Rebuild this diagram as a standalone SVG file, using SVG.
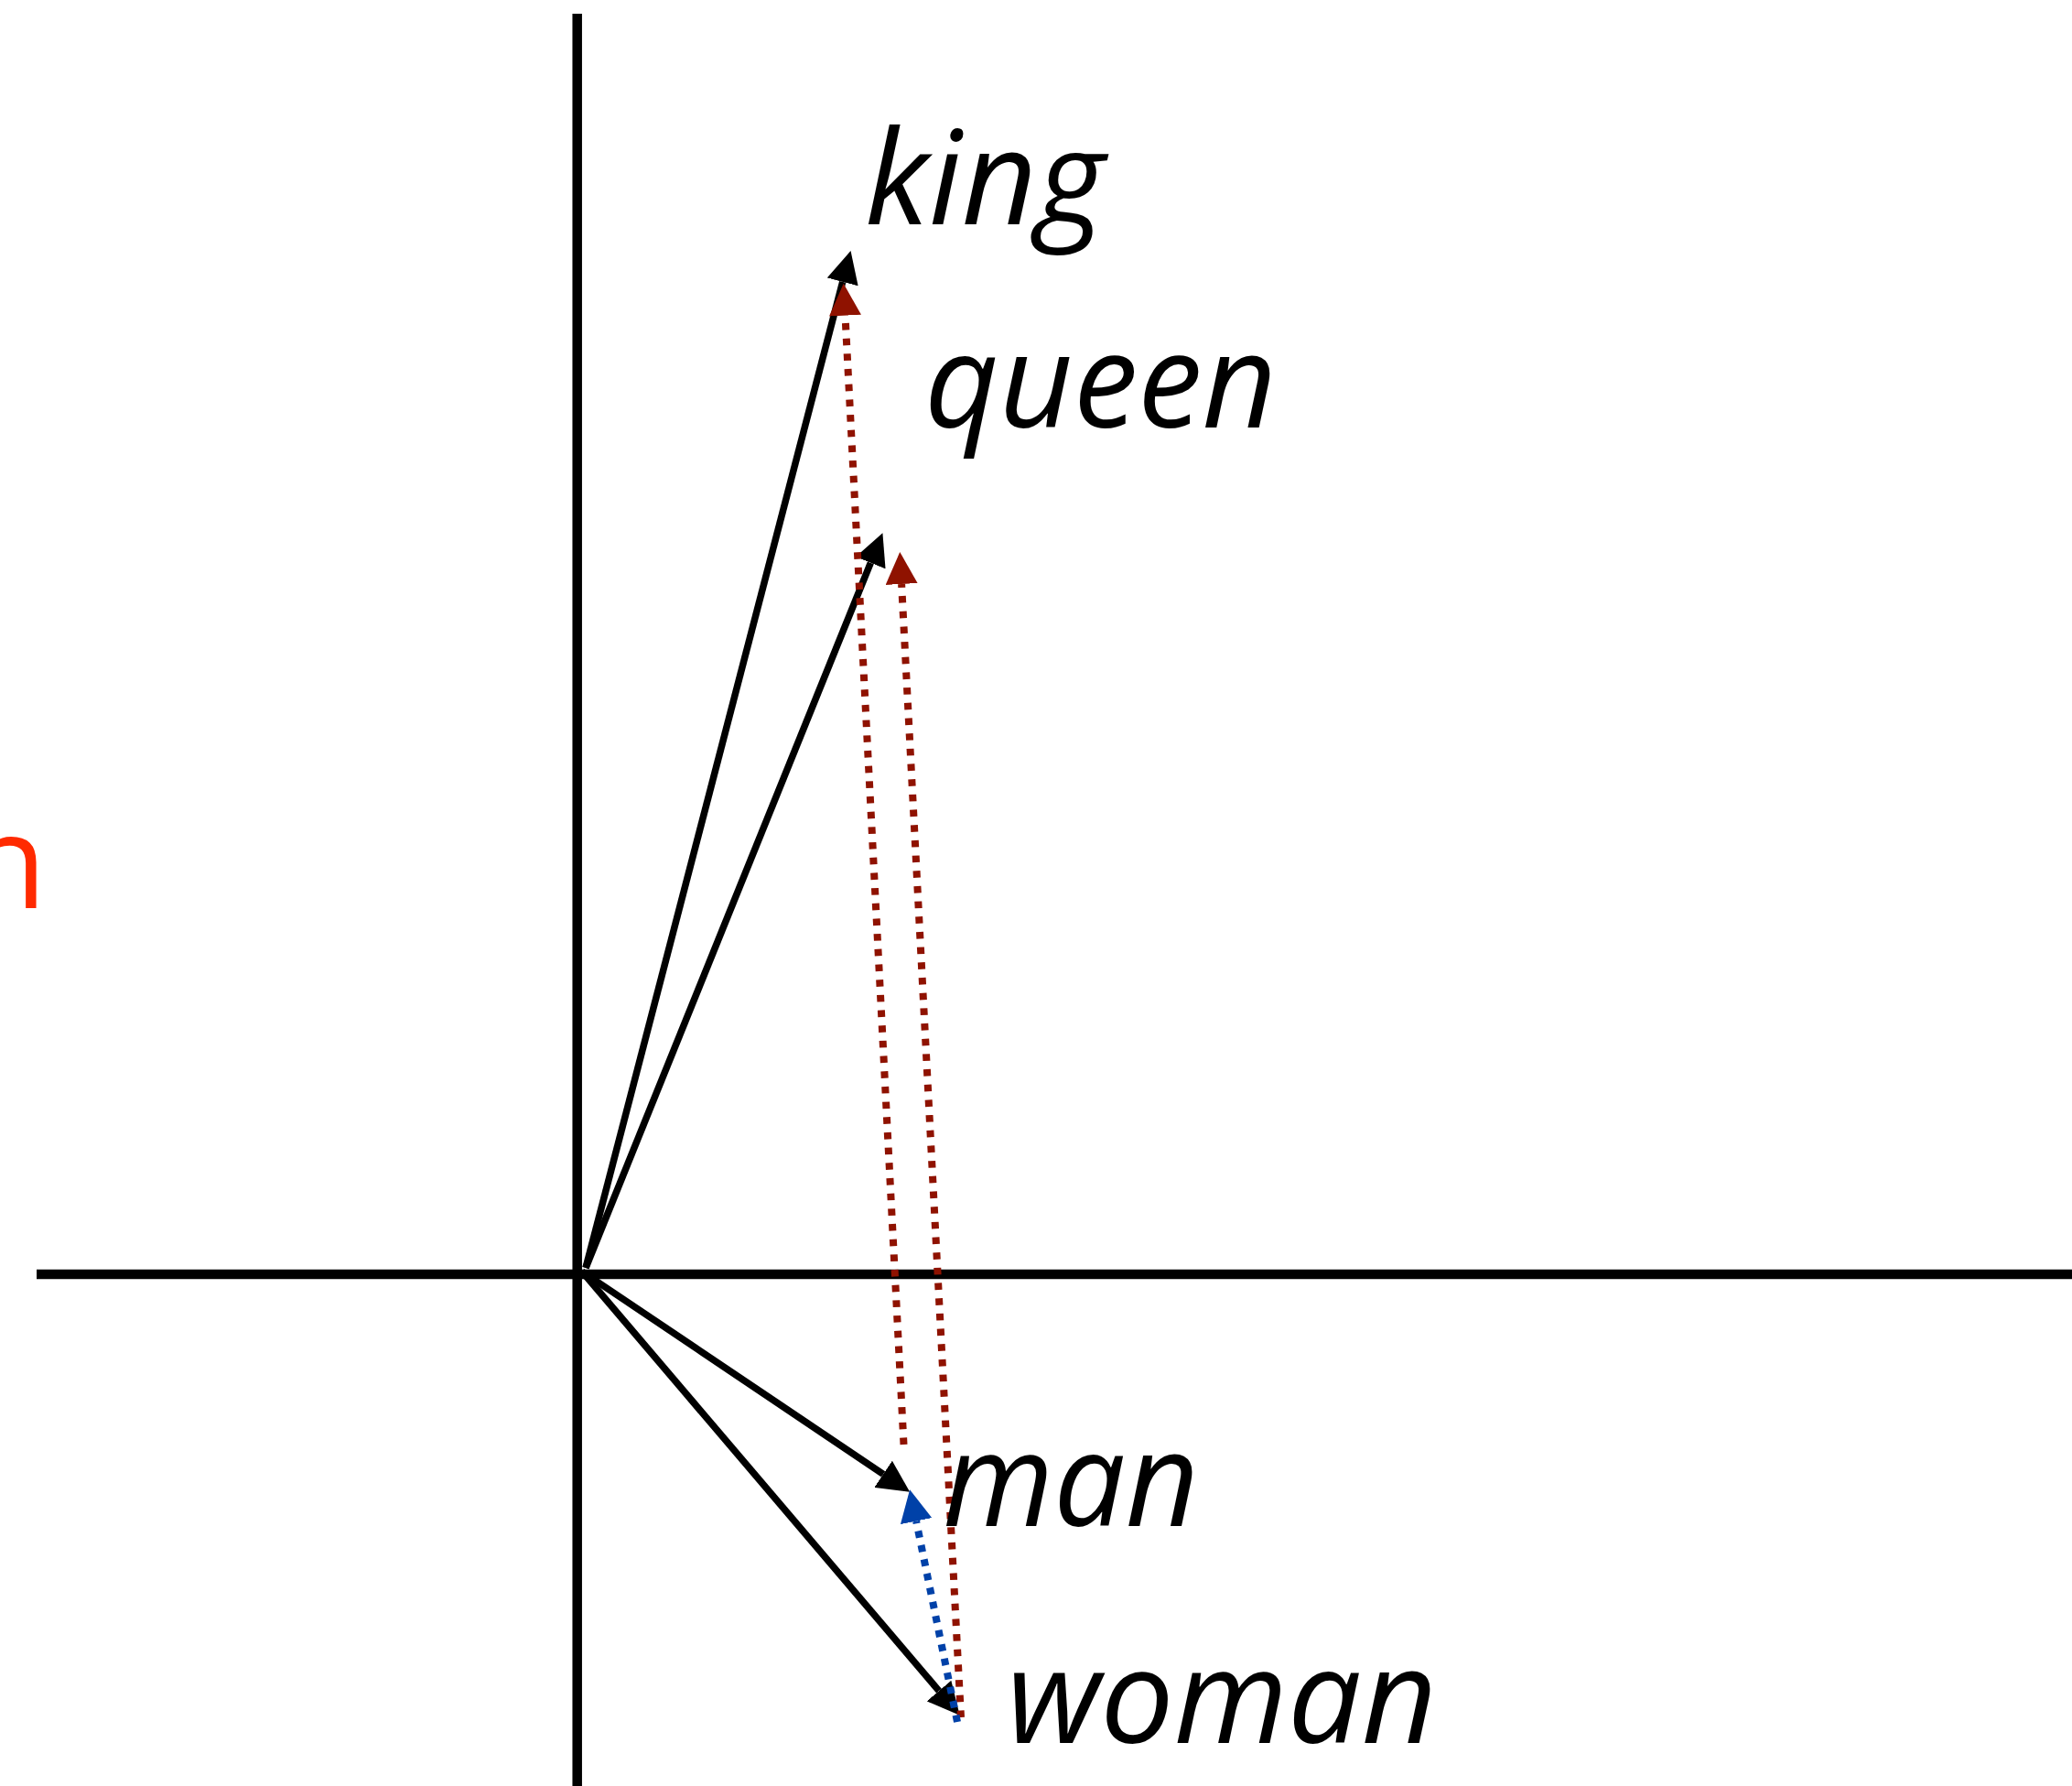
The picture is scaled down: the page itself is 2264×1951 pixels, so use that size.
<svg xmlns="http://www.w3.org/2000/svg" width="2264" height="1951" viewBox="0 0 2264 1951">
<style>
.axis{stroke:#000;stroke-width:10.5;fill:none}
.vec{stroke:#000;stroke-width:7.5;fill:none}
.red{stroke:#8f1200;stroke-width:8;fill:none;stroke-dasharray:7.5 9.2}
.blue{stroke:#0041a8;stroke-width:8;fill:none;stroke-dasharray:7.5 8.3}
.lbl{font-family:"Open Sans","Liberation Sans",sans-serif;font-style:italic;font-size:142px;fill:#000}
.side{font-family:"Open Sans","Liberation Sans",sans-serif;font-size:142px;fill:#ff2a00}
</style>
<defs>
<marker id="ahK" markerUnits="userSpaceOnUse" markerWidth="35" markerHeight="35" refX="0" refY="17.5" orient="auto" viewBox="0 0 35 35"><path d="M0,0 L35,17.5 L0,35 Z" fill="#000"/></marker>
<marker id="ahR" markerUnits="userSpaceOnUse" markerWidth="35" markerHeight="35" refX="0" refY="17.5" orient="auto" viewBox="0 0 35 35"><path d="M0,0 L35,17.5 L0,35 Z" fill="#8f1200"/></marker>
<marker id="ahB" markerUnits="userSpaceOnUse" markerWidth="35" markerHeight="35" refX="0" refY="17.5" orient="auto" viewBox="0 0 35 35"><path d="M0,0 L35,17.5 L0,35 Z" fill="#0041a8"/></marker>
</defs>
<g id="axes">
<path class="axis" d="M630.7,15 V1951"/>
<path class="axis" d="M40,1392 H2264"/>
</g>
<g id="connectors">
<path class="vec" d="M640,1385 L920.7,307.9" marker-end="url(#ahK)"/>
<path class="vec" d="M640,1385 L951.3,614.8" marker-end="url(#ahK)"/>
<path class="vec" d="M636,1389 L965.1,1610.3" marker-end="url(#ahK)"/>
<path class="vec" d="M636,1389 L1026,1847.1" marker-end="url(#ahK)"/>
<path class="red" d="M987.5,1578 L923.5,344.7" marker-end="url(#ahR)"/>
<path class="red" d="M1050,1876 L985.1,638" marker-end="url(#ahR)"/>
<path class="blue" d="M1046,1881 L1001.1,1661.6" marker-end="url(#ahB)"/>
</g>
<g id="node-king"><text class="lbl" x="945" y="245" textLength="262" lengthAdjust="spacingAndGlyphs">king</text></g>
<g id="node-queen"><text class="lbl" x="1010" y="467" textLength="385" lengthAdjust="spacingAndGlyphs">queen</text></g>
<g id="node-man"><text class="lbl" x="1030" y="1667" textLength="280" lengthAdjust="spacingAndGlyphs">man</text></g>
<g id="node-woman"><text class="lbl" x="1100" y="1904" textLength="470" lengthAdjust="spacingAndGlyphs">woman</text></g>
<g id="side-label"><text class="side" x="51" y="992" text-anchor="end">n</text></g>
</svg>
